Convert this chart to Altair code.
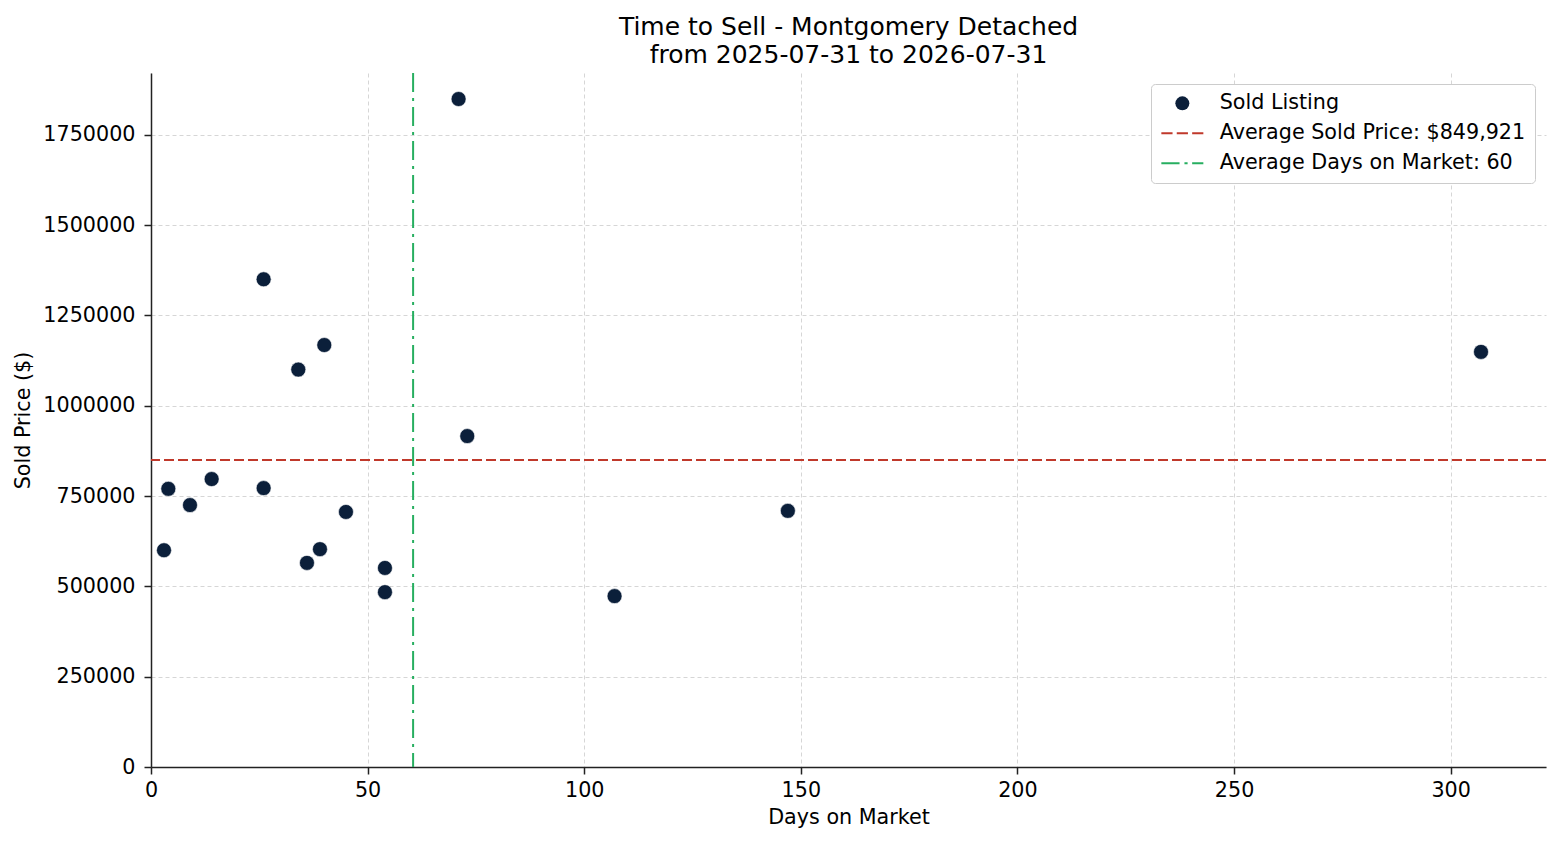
import pandas as pd
import altair as alt

# ── Data ───────────────────────────────────────────────────────────────────────

DAYS = [3, 4, 9, 14, 26, 26, 34, 36, 39, 40, 45, 54, 54, 71, 73, 107, 147, 307]
PRICES = [600000, 770000, 725000, 797000, 1350000, 772000, 1100000, 565000, 603000,
          1168000, 706000, 551000, 484000, 1849000, 916000, 473000, 709000, 1149000]
AVG_PRICE = 849921
AVG_DAYS = 60.5

LEGEND_LABELS = [
    'Sold Listing',
    'Average Sold Price: $849,921',
    'Average Days on Market: 60',
]
COLORS = ['#0b1f3a', '#c0392b', '#27ae60']

FONT = 'DejaVu Sans'

# legend symbols: circle, dashed line, dash-dot line (drawn as thin filled bars)
DASHED = ('M-3,-0.14H-1.4V0.14H-3Z M-0.8,-0.14H0.8V0.14H-0.8Z '
          'M1.4,-0.14H3V0.14H1.4Z')
DASHDOT = ('M-3,-0.14H-0.4V0.14H-3Z M0.3,-0.14H0.75V0.14H0.3Z '
           'M1.4,-0.14H3V0.14H1.4Z')

sold = pd.DataFrame({'days': DAYS, 'price': PRICES, 'series': LEGEND_LABELS[0]})
avg_price = pd.DataFrame({'price': [AVG_PRICE]})
avg_days = pd.DataFrame({'days': [AVG_DAYS]})

x_scale = alt.Scale(domain=[0, 322], nice=False, zero=False)
y_scale = alt.Scale(domain=[0, 1921000], nice=False)

x_axis = alt.Axis(values=[0, 50, 100, 150, 200, 250, 300], title='Days on Market')
y_axis = alt.Axis(values=[0, 250000, 500000, 750000, 1000000, 1250000, 1500000, 1750000],
                  format='d', title='Sold Price ($)')

points = alt.Chart(sold).mark_point(filled=True, size=225, opacity=1,
                                    stroke='white', strokeWidth=0.6).encode(
    x=alt.X('days:Q', scale=x_scale, axis=x_axis),
    y=alt.Y('price:Q', scale=y_scale, axis=y_axis),
    color=alt.Color('series:N', title=None,
                    scale=alt.Scale(domain=LEGEND_LABELS, range=COLORS),
                    legend=alt.Legend(orient='top-right', offset=11)),
    shape=alt.Shape('series:N', title=None,
                    scale=alt.Scale(domain=LEGEND_LABELS,
                                    range=['circle', DASHED, DASHDOT])),
)

hline = alt.Chart(avg_price).mark_rule(
    color=COLORS[1], strokeWidth=2, strokeDash=[10, 4]
).encode(y=alt.Y('price:Q', scale=y_scale))

vline = alt.Chart(avg_days).mark_rule(
    color=COLORS[2], strokeWidth=2, strokeDash=[19, 6, 3, 6]
).encode(x=alt.X('days:Q', scale=x_scale))

chart = (
    alt.layer(hline, vline, points)
    .properties(
        width=1395,
        height=694,
        autosize=alt.AutoSizeParams(type='none'),
        padding={'left': 143, 'top': 65, 'right': 6, 'bottom': 70},
        title=alt.TitleParams(
            text=['Time to Sell - Montgomery Detached', 'from 2025-07-31 to 2026-07-31'],
            font=FONT, fontSize=25, fontWeight='normal', color='black',
            anchor='middle', offset=4, lineHeight=28,
        ),
    )
    .configure_view(stroke=None)
    .configure_axis(
        labelFont=FONT, labelFontSize=20.7, labelColor='black', labelFlush=False,
        titleFont=FONT, titleFontSize=20.7, titleFontWeight='normal', titleColor='black',
        domainColor='#222', domainWidth=1.5, tickColor='#222', tickSize=7, tickWidth=1.5,
        gridColor='#cccccc', gridDash=[4, 3], gridWidth=0.8, labelPadding=6,
    )
    .configure_axisX(titlePadding=8)
    .configure_axisY(titlePadding=9, labelPadding=9)
    .configure_legend(
        labelFont=FONT, labelFontSize=20.7, labelColor='black', labelLimit=0,
        symbolSize=196, symbolStrokeWidth=0, rowPadding=8,
        padding=9, symbolOffset=12, labelOffset=27,
        strokeColor='#cccccc', fillColor='white', cornerRadius=4,
    )
)

chart.save('out.html', embed_options={'renderer': 'svg', 'actions': False})
